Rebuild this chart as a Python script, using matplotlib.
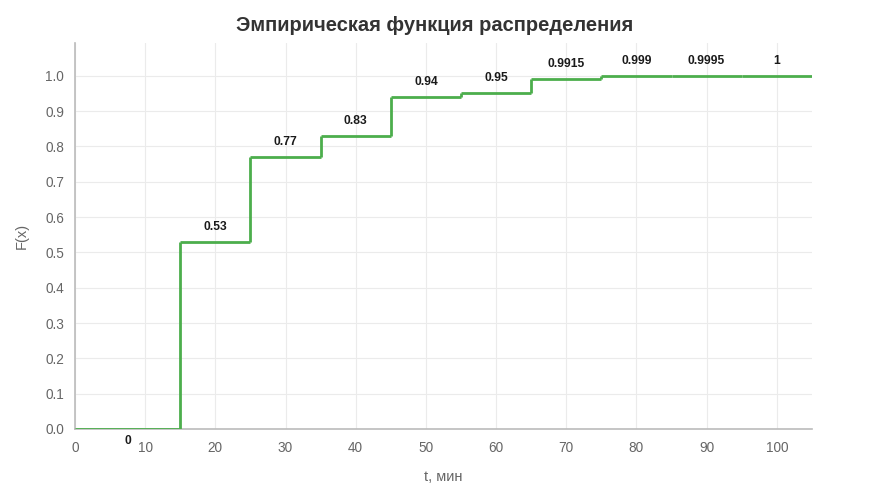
import matplotlib.pyplot as plt
import numpy as np

# step boundaries (minutes) and empirical CDF values on each interval
edges = [0, 15, 25, 35, 45, 55, 65, 75, 85, 95, 105]
values = [0, 0.53, 0.77, 0.83, 0.94, 0.95, 0.9915, 0.999, 0.9995, 1]
labels = ["0", "0.53", "0.77", "0.83", "0.94", "0.95", "0.9915", "0.999", "0.9995", "1"]

x_ticks = [0, 10, 20, 30, 40, 50, 60, 70, 80, 90, 100]
y_ticks = np.round(np.arange(0, 1.01, 0.1), 1)

plt.rcParams["font.family"] = ["Liberation Sans", "DejaVu Sans"]

fig = plt.figure(figsize=(8.7, 4.94), dpi=100)
ax = fig.add_axes([0.0862, 0.1316, 0.847, 0.7814])

green = "#4cae4c"
# draw each horizontal piece plus the vertical jumps
for i in range(len(values)):
    ax.plot([edges[i], edges[i + 1]], [values[i], values[i]], color=green, lw=2.0,
            solid_capstyle="butt", zorder=3)
    if i > 0:
        ax.plot([edges[i], edges[i]], [values[i - 1], values[i]], color=green, lw=2.0,
                solid_capstyle="butt", zorder=3)

# value labels at the middle of each step
for i, lab in enumerate(labels):
    xm = (edges[i] + edges[i + 1]) / 2
    dy = -9 if i == 0 else 11
    ax.annotate(lab, (xm, values[i]), xytext=(0, dy), textcoords="offset points",
                ha="center", va="center", fontsize=8.7, fontweight="bold", color="#1a1a1a")

ax.set_xlim(0, 105)
ax.set_ylim(0, 1.093)
ax.set_xticks(x_ticks)
ax.set_yticks(y_ticks)
ax.set_yticklabels([f"{v:.1f}" for v in y_ticks])
ax.tick_params(length=0, labelsize=9.8, colors="#666666")
ax.tick_params(axis="x", pad=8.5)
ax.tick_params(axis="y", pad=8)
ax.grid(True, color="#ebebeb", lw=0.8)
ax.set_axisbelow(True)

for side in ["top", "right"]:
    ax.spines[side].set_visible(False)
ax.spines["left"].set_color("#bbbbbb")
ax.spines["bottom"].set_color("#bbbbbb")
ax.spines["left"].set_linewidth(1.2)
ax.spines["bottom"].set_linewidth(1.2)

ax.set_xlabel("t, мин", fontsize=10.5, color="#666666", labelpad=11)
ax.set_ylabel("F(x)", fontsize=10.5, color="#666666", labelpad=12)
fig.suptitle("Эмпирическая функция распределения", fontsize=14.5, fontweight="bold",
             color="#333333", y=0.968)

fig.savefig("out.png", dpi=100)
